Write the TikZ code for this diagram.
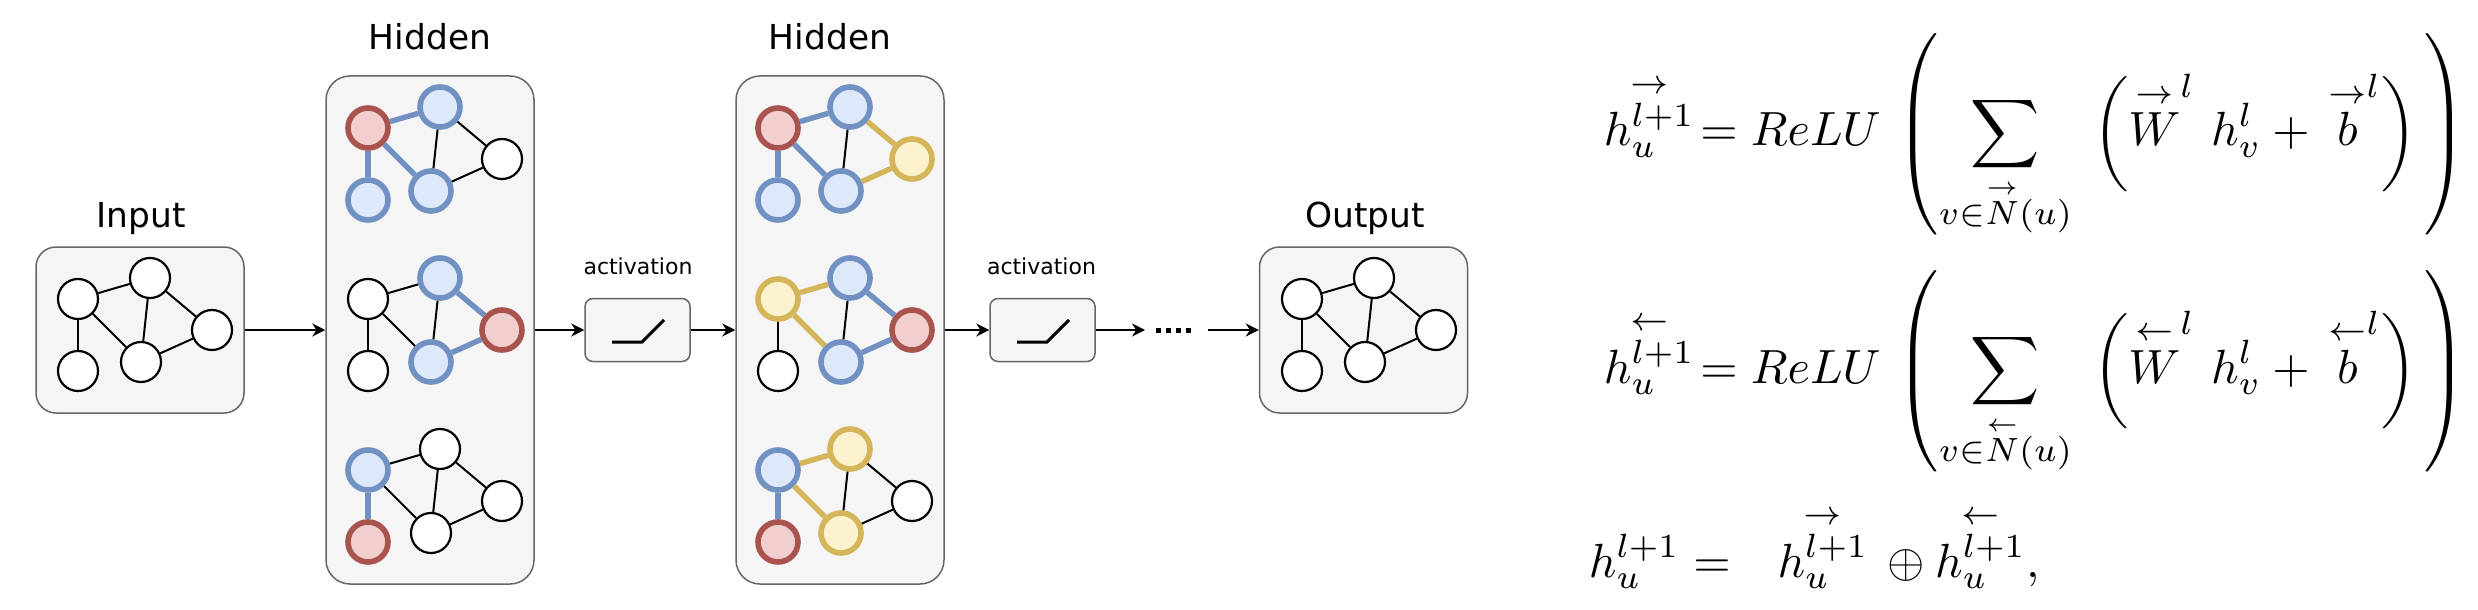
\documentclass[tikz,border=0pt]{standalone}
\usepackage{amsmath,amssymb}
\usepackage{fontspec}
\newfontfamily\labelfont{DejaVu Sans}
\usepackage{tikz}
\usetikzlibrary{arrows.meta}

\definecolor{panelfill}{HTML}{F5F5F5}
\definecolor{panelline}{HTML}{666666}
\definecolor{redfill}{HTML}{F0CFCE}
\definecolor{redline}{HTML}{A8534E}
\definecolor{bluefill}{HTML}{DDE8FA}
\definecolor{blueline}{HTML}{7191C2}
\definecolor{yelfill}{HTML}{FCF2CD}
\definecolor{yelline}{HTML}{D4B55A}

\tikzset{
  panel/.style={draw=panelline, fill=panelfill, line width=0.75pt, inner sep=0pt},
  iobox/.style={panel, rounded corners=10pt, minimum width=104pt, minimum height=83pt},
  hidbox/.style={panel, rounded corners=12pt, minimum width=104pt, minimum height=254pt},
  actbox/.style={panel, rounded corners=4pt, minimum width=52.5pt, minimum height=31.5pt},
  paneltitle/.style={font=\labelfont\fontsize{17.2}{20}\selectfont, anchor=base, inner sep=0pt},
  acttitle/.style={font=\labelfont\fontsize{11}{13}\selectfont, anchor=base, inner sep=0pt},
  wnode/.style={circle, minimum size=20pt, inner sep=0pt, draw=black, line width=1.1pt, fill=white},
  rnode/.style={wnode, draw=redline, fill=redfill, line width=2.8pt},
  bnode/.style={wnode, draw=blueline, fill=bluefill, line width=2.8pt},
  ynode/.style={wnode, draw=yelline, fill=yelfill, line width=2.8pt},
  kedge/.style={draw=black, line width=1pt},
  bedge/.style={draw=blueline, line width=2.7pt},
  yedge/.style={draw=yelline, line width=2.7pt},
  flow/.style={-{Stealth[length=6.5pt, width=6.5pt]}, line width=1pt},
  relu/.style={line width=1.5pt},
  dotrun/.style={line width=2.5pt, dash pattern=on 2.25pt off 2.75pt},
  eqn/.style={anchor=base west, inner sep=0pt, scale=2.4}
}

% #1 name prefix, #2/#3 centre of the upper left node, #4 node tones, #5 edge tones
\newcommand{\minigraph}[5]{%
  \foreach \tone [count=\i] in {#4} {
    \pgfmathsetmacro{\dx}{{0,72,134,0,63}[\i-1]}
    \pgfmathsetmacro{\dy}{{0,-21,31,72,63}[\i-1]}
    \node[\tone] (#1\i) at (#2+\dx,#3+\dy) {};
  }
  \foreach \tone [count=\j] in {#5} {
    \pgfmathtruncatemacro{\efrom}{{1,1,1,2,2,5}[\j-1]}
    \pgfmathtruncatemacro{\eto}{{2,4,5,5,3,3}[\j-1]}
    \draw[\tone] (#1\efrom) -- (#1\eto);
  }
}

\begin{document}
\begin{tikzpicture}[x=0.5pt, y=-0.5pt]
  \useasboundingbox (0,0) rectangle (2478,610);

  \node[iobox] (input) at (140,330) {};
  \node[hidbox] (hid1) at (430,330) {};
  \node[actbox] (act1) at (637.5,330) {};
  \node[hidbox] (hid2) at (840,330) {};
  \node[actbox] (act2) at (1042.5,330) {};
  \node[iobox] (output) at (1363.5,330) {};

  \node[paneltitle] (inlabel) at (141,227) {Input};
  \node[paneltitle] (hid1label) at (430,50) {Hidden};
  \node[paneltitle] (hid2label) at (830,50) {Hidden};
  \node[paneltitle] (outlabel) at (1365,227) {Output};
  \node[acttitle] (act1label) at (638,274) {activation};
  \node[acttitle] (act2label) at (1041.5,274) {activation};

  \draw[relu] ([shift={(-25.5,12)}]act1.center) -- ++(30,0) -- ++(22,-22);
  \draw[relu] ([shift={(-25.5,12)}]act2.center) -- ++(30,0) -- ++(22,-22);

  \minigraph{in}{78}{299}{wnode,wnode,wnode,wnode,wnode}{kedge,kedge,kedge,kedge,kedge,kedge}
  \minigraph{ha}{368}{128}{rnode,bnode,wnode,bnode,bnode}{bedge,bedge,bedge,kedge,kedge,kedge}
  \minigraph{hb}{368}{299}{wnode,bnode,rnode,wnode,bnode}{kedge,kedge,kedge,kedge,bedge,bedge}
  \minigraph{hc}{368}{470}{bnode,wnode,wnode,rnode,wnode}{kedge,bedge,kedge,kedge,kedge,kedge}
  \minigraph{ka}{778}{128}{rnode,bnode,ynode,bnode,bnode}{bedge,bedge,bedge,kedge,yedge,yedge}
  \minigraph{kb}{778}{299}{ynode,bnode,rnode,wnode,bnode}{yedge,kedge,yedge,kedge,bedge,bedge}
  \minigraph{kc}{778}{470}{bnode,ynode,wnode,rnode,ynode}{yedge,bedge,yedge,kedge,kedge,kedge}
  \minigraph{out}{1302}{299}{wnode,wnode,wnode,wnode,wnode}{kedge,kedge,kedge,kedge,kedge,kedge}

  \coordinate (dotsin) at (1145,330);
  \coordinate (dotsa) at (1156,330);
  \coordinate (dotsb) at (1191,330);
  \coordinate (dotsout) at (1208,330);
  \draw[flow] (input) -- (hid1);
  \draw[flow] (hid1) -- (act1);
  \draw[flow] (act1) -- (hid2);
  \draw[flow] (hid2) -- (act2);
  \draw[flow] (act2) -- (dotsin);
  \draw[dotrun] (dotsa) -- (dotsb);
  \draw[flow] (dotsout) -- (output);

  \node[eqn] (eqfwd) at (1603,146) {$\displaystyle \overset{\rightarrow}{h_u^{l+1}} \!= ReLU \, \left( \sum_{v\in\overset{\rightarrow}{N}(u)} \; \left( \overset{\rightarrow}{W}^{l}\ h_v^{l} + \, \overset{\rightarrow}{b}^{l} \right) \, \right)$};
  \node[eqn] (eqbwd) at (1603,383) {$\displaystyle \overset{\leftarrow}{h_u^{l+1}} \!= ReLU \, \left( \sum_{v\in\overset{\leftarrow}{N}(u)} \; \left( \overset{\leftarrow}{W}^{l}\ h_v^{l} + \, \overset{\leftarrow}{b}^{l} \right) \, \right)$};
  \node[eqn] (eqcat) at (1588,577) {$\displaystyle h_u^{l+1} = \hspace{0.7em} \overset{\rightarrow}{h_u^{l+1}} \,\oplus \overset{\leftarrow}{h_u^{l+1}},$};
\end{tikzpicture}
\end{document}
